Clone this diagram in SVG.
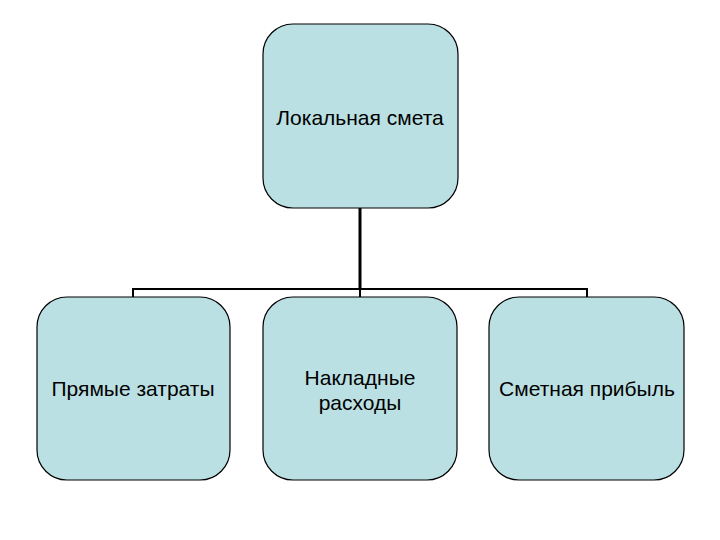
<svg xmlns="http://www.w3.org/2000/svg" width="720" height="540" viewBox="0 0 720 540">
<style>
.box{fill:#BBE0E3;stroke:#000;stroke-width:1.2}
.t{font-family:"Liberation Sans",Arial,sans-serif;font-size:21px;fill:#000;text-anchor:middle}
.c{stroke:#000;stroke-width:2;fill:none}
</style>
<rect width="720" height="540" fill="#fff"/>
<g id="connectors">
<path class="c" d="M360,208 V290" style="stroke-width:3"/>
<path class="c" d="M133,297 V289 H587 V297 M360,289 V297"/>
</g>
<g id="n-top">
<rect class="box" x="263" y="24" width="195" height="184" rx="30"/>
<text class="t" x="360" y="125">Локальная смета</text>
</g>
<g id="n-direct">
<rect class="box" x="37" y="297" width="193" height="183" rx="30"/>
<text class="t" x="133" y="396">Прямые затраты</text>
</g>
<g id="n-overhead">
<rect class="box" x="263" y="297" width="194" height="183" rx="30"/>
<text class="t" x="360" y="385">Накладные</text>
<text class="t" x="360" y="410">расходы</text>
</g>
<g id="n-profit">
<rect class="box" x="489" y="297" width="195" height="183" rx="30"/>
<text class="t" x="587" y="396">Сметная прибыль</text>
</g>
</svg>
